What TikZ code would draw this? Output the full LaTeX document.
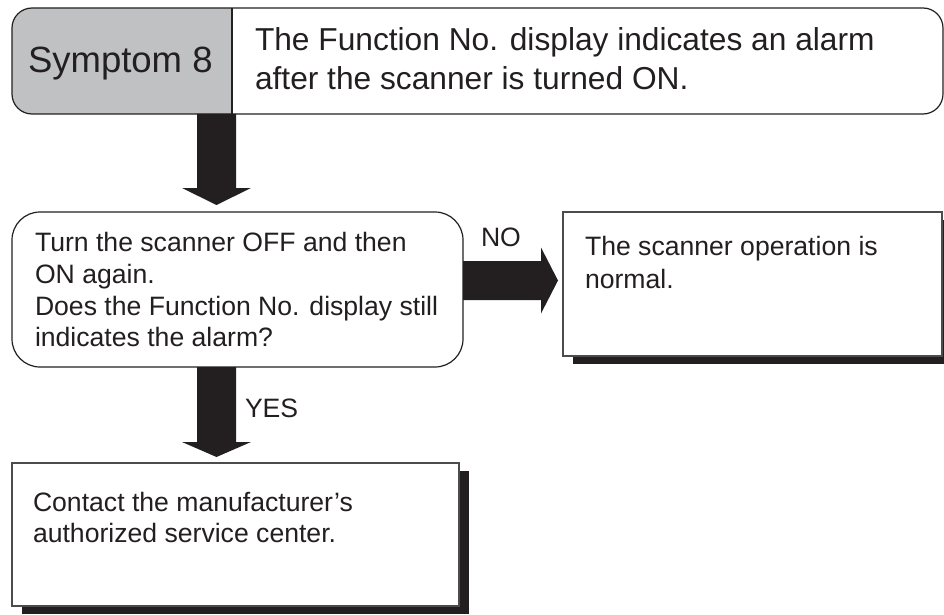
\documentclass[tikz,border=0pt]{standalone}
\usepackage{fontspec}
\setmainfont{Liberation Sans}
\usetikzlibrary{calc,shadows}
\definecolor{ink}{HTML}{231F20}
\definecolor{symgray}{RGB}{192,193,195}
\begin{document}
\begin{tikzpicture}[x=1pt,y=-1pt,
  frame/.style={draw=none,fill=none,inner sep=0pt,outer sep=0pt},
  hdrline/.style={draw=ink,line width=1.2pt},
  decbox/.style={draw=ink,line width=1.2pt,fill=white,rounded corners=28pt,inner sep=0pt,outer sep=0pt},
  resbox/.style={draw=black!70,line width=1.1pt,fill=white,inner sep=0pt,outer sep=0pt,
     drop shadow={shadow xshift=9.5pt,shadow yshift=-8pt,fill=ink,opacity=1}},
  txt/.style={anchor=base west,inner sep=0pt,outer sep=0pt,text=ink,font=\fontsize{26.6}{32}\selectfont},
  htxt/.style={txt,font=\fontsize{31.7}{38}\selectfont},
  arrowfill/.style={fill=ink}]
\useasboundingbox (0,0) rectangle (944,615);

% header
\node[frame,minimum width=220pt,minimum height=106pt] (sym) at (122,61) {};
\node[frame,minimum width=711pt,minimum height=106pt] (hdr) at (587.5,61) {};
\fill[white,rounded corners=20pt] (sym.north west) rectangle (hdr.south east);
\begin{scope}
  \clip (sym.north west) rectangle (sym.south east);
  \fill[symgray,rounded corners=20pt] (sym.north west) rectangle (hdr.south east);
\end{scope}
\draw[hdrline,rounded corners=20pt] (sym.north west) rectangle (hdr.south east);
\draw[hdrline] (sym.north east) -- (sym.south east);
\node[txt,font=\fontsize{36.5}{40}\selectfont] (symt) at (28,73) {Symptom 8};
\node[htxt] (h1) at (255,51) {The Function No. display indicates an alarm};
\node[htxt] (h2) at (255,90) {after the scanner is turned ON.};

% decision
\node[decbox,minimum width=451pt,minimum height=155pt] (dec) at (237.5,289.5) {};
\node[txt] (d1) at (35,251) {Turn the scanner OFF and then};
\node[txt] (d2) at (35,283) {ON again.};
\node[txt] (d3) at (35,315) {Does the Function No. display still};
\node[txt] (d4) at (35,346) {indicates the alarm?};

% results
\node[resbox,minimum width=379pt,minimum height=144pt] (res1) at (752.5,284) {};
\node[txt] (r1a) at (585,255) {The scanner operation is};
\node[txt] (r1b) at (585,288) {normal.};
\node[resbox,minimum width=447pt,minimum height=143pt] (res2) at (235.5,534.5) {};
\node[txt] (r2a) at (33,511) {Contact the manufacturer’s};
\node[txt] (r2b) at (33,542) {authorized service center.};

% labels
\node[txt] (not) at (481,246) {NO};
\node[txt] (yest) at (245,417) {YES};

% arrow header -> decision
\coordinate (a1s) at ($(sym.south west)+(204.5,0)$);
\coordinate (a1e) at ($(dec.north west)+(204.5,-7)$);
\fill[arrowfill] ($(a1s)+(-19.5,0)$) -- ($(a1e)+(-19.5,-17)$) -- ($(a1e)+(-34.5,-17)$)
  -- (a1e) -- ($(a1e)+(34.5,-17)$) -- ($(a1e)+(19.5,-17)$) -- ($(a1s)+(19.5,0)$) -- cycle;

% arrow decision -> res1 (NO)
\coordinate (a2s) at ($(dec.east)+(0,-9)$);
\coordinate (a2e) at ($(a2s -| res1.west)+(-5,0)$);
\fill[arrowfill] ($(a2s)+(0,-19.5)$) -- ($(a2e)+(-17,-19.5)$) -- ($(a2e)+(-17,-33)$)
  -- (a2e) -- ($(a2e)+(-17,33)$) -- ($(a2e)+(-17,19.5)$) -- ($(a2s)+(0,19.5)$) -- cycle;

% arrow decision -> res2 (YES)
\coordinate (a3s) at ($(dec.south west)+(204.5,0)$);
\coordinate (a3e) at ($(res2.north west)+(204.5,-6)$);
\fill[arrowfill] ($(a3s)+(-19.5,0)$) -- ($(a3e)+(-19.5,-15)$) -- ($(a3e)+(-34.5,-15)$)
  -- (a3e) -- ($(a3e)+(34.5,-15)$) -- ($(a3e)+(19.5,-15)$) -- ($(a3s)+(19.5,0)$) -- cycle;
\end{tikzpicture}
\end{document}
